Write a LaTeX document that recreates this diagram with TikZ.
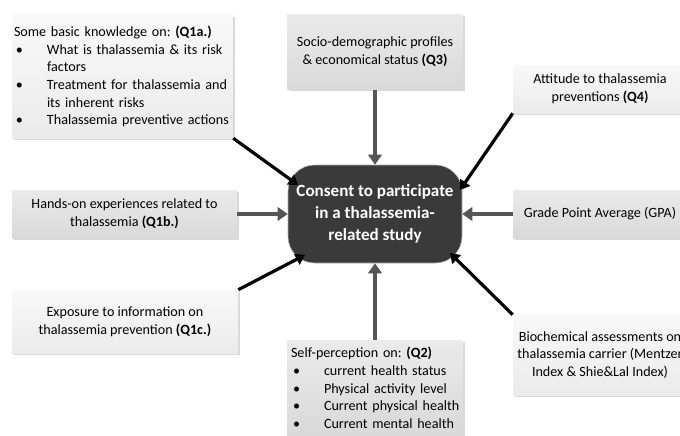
\documentclass[tikz,border=0pt]{standalone}
\usepackage{fontspec}
\setmainfont{Carlito}
\usepackage{tikz}
\usetikzlibrary{positioning,arrows.meta,shadows}
\definecolor{centrefill}{HTML}{3A3A3A}
\definecolor{arrowgray}{HTML}{555555}
\newcommand{\bitem}[1]{\mbox{\makebox[24.75pt][l]{\hspace{1.5pt}\textbullet}#1}}
\newcommand{\bcont}[1]{\mbox{\hspace*{24.75pt}#1}}
\frenchspacing

\begin{document}
\begin{tikzpicture}[x=0.75pt,y=-0.75pt,
  every node/.style={font=\fontsize{10.6}{13.3}\selectfont},
  box/.style={rectangle,inner sep=1.5pt,
    drop shadow={shadow xshift=1.2pt,shadow yshift=-1.2pt,opacity=0.3,fill=black!50}},
  darkbox/.style={box,top color=gray!16,bottom color=gray!30},
  lightbox/.style={box,top color=gray!5,bottom color=gray!16},
  topic/.style={rectangle,rounded corners=20pt,fill=centrefill,draw=gray!60,
    text=white,align=center,minimum width=130.5pt,minimum height=73.5pt,
    font=\bfseries\fontsize{12.8}{16.5}\selectfont},
  garrow/.style={draw=arrowgray,line width=2.4pt,-{Triangle[length=7.5pt,width=10pt]}},
  barrow/.style={draw=black,line width=2.4pt,-{Triangle[length=7pt,width=9pt]}}]
  \clip (0,0) rectangle (680,435);
  \fill[white] (0,0) rectangle (680,435);

  \node[lightbox,minimum width=165.75pt,minimum height=92.25pt,text width=162.75pt,align=left]
    (knowledge) at (122.5,76.5) {Some basic knowledge on: \textbf{(Q1a.)}\\
      \bitem{What is thalassemia \& its risk}\\ \bcont{factors}\\
      \bitem{Treatment for thalassemia and}\\ \bcont{its inherent risks}\\
      \bitem{Thalassemia preventive actions}};
  \node[darkbox,minimum width=168.75pt,minimum height=36pt,align=center]
    (experience) at (124.5,214) {Hands-on experiences related to\\thalassemia \textbf{(Q1b.)}};
  \node[lightbox,minimum width=169.5pt,minimum height=47.25pt,align=center]
    (exposure) at (125,321.5) {Exposure to information on\\thalassemia prevention \textbf{(Q1c.)}};
  \node[darkbox,minimum width=132pt,minimum height=56.25pt,align=center]
    (socio) at (375,52) {Socio-demographic profiles\\\& economical status \textbf{(Q3)}};
  \node[lightbox,minimum width=130.5pt,minimum height=36pt,align=center]
    (attitude) at (600,89) {Attitude to thalassemia\\preventions \textbf{(Q4)}};
  \node[darkbox,minimum width=130.5pt,minimum height=36pt,align=center]
    (gpa) at (600,214) {Grade Point Average (GPA)};
  \node[lightbox,minimum width=130.5pt,minimum height=60pt,align=center]
    (biochem) at (600,355) {Biochemical assessments on\\thalassemia carrier (Mentzer\\Index \& Shie\&Lal Index)};
  \node[darkbox,minimum width=132pt,minimum height=72pt,inner xsep=3pt,text width=126pt,align=left]
    (selfperc) at (375,388) {Self-perception on: \textbf{(Q2)}\\
      \bitem{current health status}\\ \bitem{Physical activity level}\\
      \bitem{Current physical health}\\ \bitem{Current mental health}};
  \node[topic] (consent) at (375,214) {Consent to participate\\in a thalassemia-\\related study};

  \draw[garrow] (socio) -- (consent);
  \draw[garrow] (experience) -- (consent);
  \draw[garrow] (gpa) -- (consent);
  \draw[garrow] (selfperc) -- (consent);
  \draw[barrow] (knowledge.south east) -- ([shift={(-77,-29)}]consent.center);
  \draw[barrow] (attitude.south west) -- ([shift={(85,-24)}]consent.center);
  \draw[barrow] (exposure.north east) -- ([shift={(-70,41)}]consent.center);
  \draw[barrow] (biochem.north west) -- ([shift={(75,39)}]consent.center);
\end{tikzpicture}
\end{document}
